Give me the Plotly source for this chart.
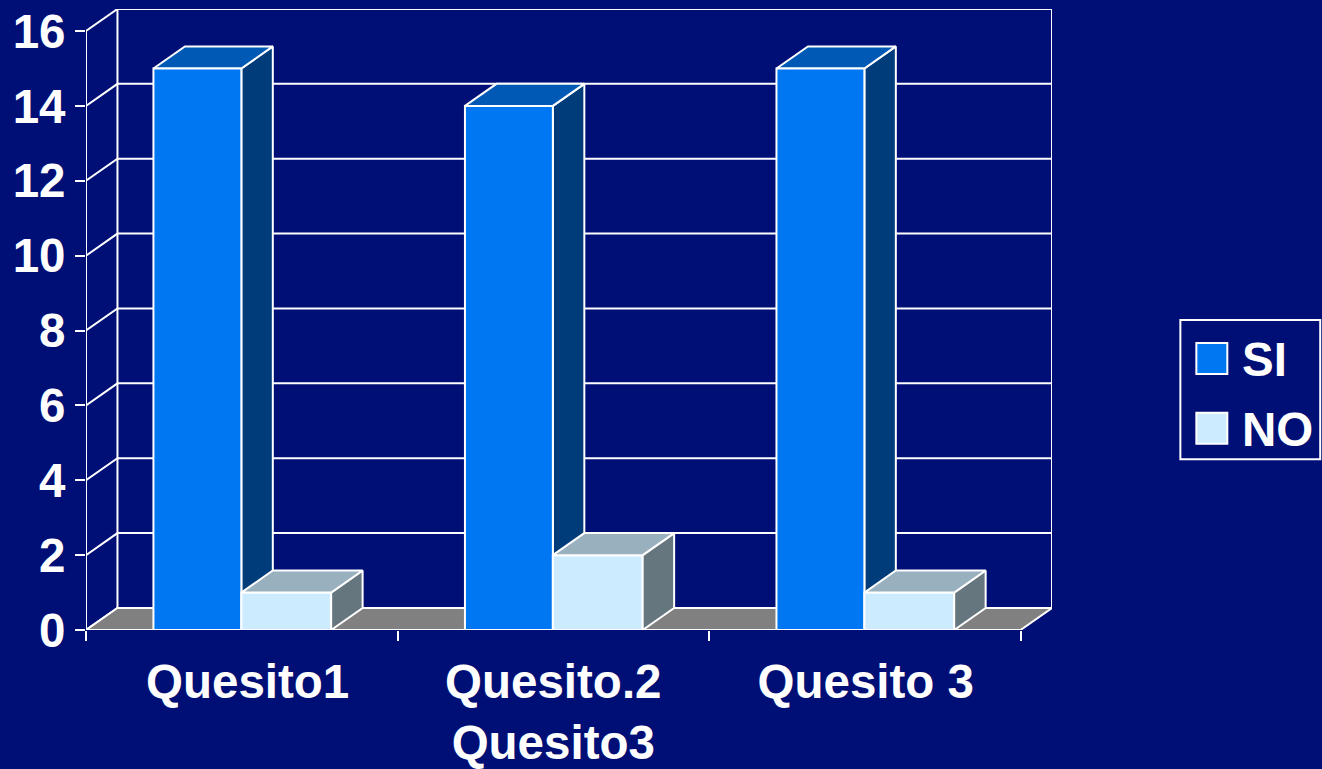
import plotly.graph_objects as go

categories = ["Quesito1", "Quesito.2<br>Quesito3", "Quesito 3"]
label_positions = [0.519, 1.5, 2.503]
si_values = [15, 14, 15]
no_values = [1, 2, 1]
y_ticks = [0, 2, 4, 6, 8, 10, 12, 14, 16]
legend_labels = ["SI", "NO"]

BG = "#000F75"
WHITE = "#FFFFFF"
SI_FRONT, SI_TOP, SI_SIDE = "#0077F2", "#0059B5", "#003C79"
NO_FRONT, NO_TOP, NO_SIDE = "#CCEBFF", "#99B0BF", "#66767F"
FLOOR = "#808080"
FONT = dict(family="Liberation Sans, Arial, sans-serif", size=47.5, color=WHITE)
LW = 2

# oblique depth, in axis units
DX, DY = 0.101, 0.589
SI_OFF, SI_W = 0.2165, 0.2822
NO_OFF, NO_W = 0.4987, 0.2883
n = len(categories)
XR = [0, n + DX]
YR = [0, y_ticks[-1] + DY]


def poly(xs, ys, fill, xa="x", ya="y"):
    return go.Scatter(x=xs, y=ys, mode="lines", fill="toself", fillcolor=fill,
                      line=dict(color=WHITE, width=LW), cliponaxis=False,
                      hoverinfo="skip", showlegend=False, xaxis=xa, yaxis=ya)


fig = go.Figure()

# back wall, side wall and gridlines
gx, gy = [], []
for v in y_ticks:
    gx += [0, DX, n + DX, None]
    gy += [v, v + DY, v + DY, None]
fig.add_trace(go.Scatter(x=gx, y=gy, mode="lines", line=dict(color=WHITE, width=LW),
                         cliponaxis=False, hoverinfo="skip", showlegend=False))
top = y_ticks[-1]
fig.add_trace(go.Scatter(x=[0, 0, None, DX, DX, None, n + DX, n + DX],
                         y=[0, top, None, DY, top + DY, None, DY, top + DY],
                         mode="lines", line=dict(color=WHITE, width=LW),
                         cliponaxis=False, hoverinfo="skip", showlegend=False))
# floor
fig.add_trace(poly([0, DX, n + DX, n, 0], [0, DY, DY, 0, 0], FLOOR))


def box_faces(i, v, off, w, side, topc, xa, ya):
    x0 = i + off
    x1 = x0 + w
    fig.add_trace(poly([x1, x1 + DX, x1 + DX, x1, x1], [0, DY, v + DY, v, 0], side, xa, ya))
    fig.add_trace(poly([x0, x0 + DX, x1 + DX, x1, x0], [v, v + DY, v + DY, v, v], topc, xa, ya))


for i, v in enumerate(si_values):
    box_faces(i, v, SI_OFF, SI_W, SI_SIDE, SI_TOP, "x", "y")

# front faces sit on an overlaid pair of axes so they cover the SI side faces
fig.add_trace(go.Bar(x=[i + SI_OFF + SI_W / 2 for i in range(n)], y=si_values, width=SI_W,
                     marker=dict(color=SI_FRONT, line=dict(color=WHITE, width=LW)),
                     name=legend_labels[0], xaxis="x2", yaxis="y2", showlegend=False))
fig.add_trace(go.Bar(x=[i + NO_OFF + NO_W / 2 for i in range(n)], y=no_values, width=NO_W,
                     marker=dict(color=NO_FRONT, line=dict(color=WHITE, width=LW)),
                     name=legend_labels[1], xaxis="x2", yaxis="y2", showlegend=False))
for i, v in enumerate(no_values):
    box_faces(i, v, NO_OFF, NO_W, NO_SIDE, NO_TOP, "x2", "y2")

W, H = 1322, 769
L, R, T, B = 85.5, 269.5, 8.8, 138.7

# legend
shapes = [dict(type="rect", xref="paper", yref="paper",
               x0=(1181 - L) / (W - L - R), x1=(1321 - L) / (W - L - R),
               y0=(H - B - 459.5) / (H - T - B), y1=(H - B - 320) / (H - T - B),
               line=dict(color=WHITE, width=LW), fillcolor=BG, layer="above")]
annotations = []
for label, color, ytop in zip(legend_labels, [SI_FRONT, NO_FRONT], [343, 413]):
    shapes.append(dict(type="rect", xref="paper", yref="paper",
                       x0=(1197 - L) / (W - L - R), x1=(1228 - L) / (W - L - R),
                       y0=(H - B - ytop - 31) / (H - T - B), y1=(H - B - ytop) / (H - T - B),
                       line=dict(color=WHITE, width=LW), fillcolor=color, layer="above"))
    annotations.append(dict(text=f"<b>{label}</b>", xref="paper", yref="paper", showarrow=False,
                            x=(1242 - L) / (W - L - R), y=(H - B - ytop - 17) / (H - T - B),
                            xanchor="left", yanchor="middle", font=FONT, borderpad=0))

fig.update_layout(
    width=W, height=H, autosize=False,
    margin=dict(l=L, r=R, t=T, b=B, pad=0, autoexpand=False),
    paper_bgcolor=BG, plot_bgcolor=BG, barmode="overlay", showlegend=False,
    shapes=shapes, annotations=annotations, font=FONT,
    xaxis=dict(range=XR, tickmode="array", tickvals=label_positions,
               ticktext=[f"<b>{c.replace('<br>', '</b><br><b>')}</b>" for c in categories],
               ticks="", showgrid=False, zeroline=False, showline=False,
               tickfont=FONT, ticklabelstandoff=19, tickangle=0),
    yaxis=dict(range=YR, tickmode="array", tickvals=y_ticks,
               ticktext=[f"<b>{t}</b>" for t in y_ticks],
               ticks="outside", ticklen=10, tickwidth=LW, tickcolor=WHITE,
               showgrid=False, zeroline=False, showline=False,
               tickfont=FONT, ticklabelstandoff=0),
    xaxis2=dict(range=XR, overlaying="x", anchor="y2", side="bottom", tickmode="array",
                tickvals=list(range(n + 1)), ticktext=[""] * (n + 1), ticks="outside",
                ticklen=10, tickwidth=LW, tickcolor=WHITE, showgrid=False,
                zeroline=False, showline=False),
    yaxis2=dict(range=YR, overlaying="y", anchor="x2", visible=False, showgrid=False,
                zeroline=False),
)

fig.write_html("out.html", config=dict(displayModeBar=False),
               post_script="document.body.style.margin='0';document.body.style.overflow='hidden';"
                           "document.documentElement.style.background='" + BG + "';")
